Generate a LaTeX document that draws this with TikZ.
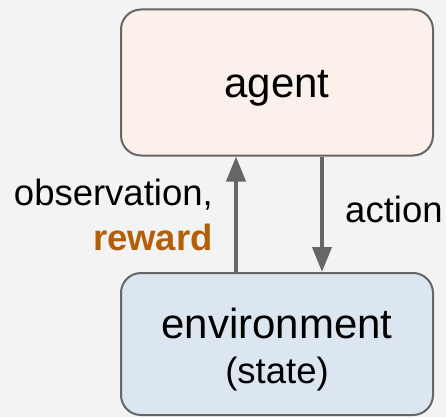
\documentclass[tikz,border=0pt]{standalone}
\usepackage{fontspec}
\setmainfont{Liberation Sans}
\usetikzlibrary{arrows.meta}
\definecolor{bgc}{HTML}{F3F3F3}
\definecolor{edgec}{HTML}{666666}
\definecolor{agentc}{HTML}{FCF0EA}
\definecolor{envc}{HTML}{DCE6F0}
\definecolor{rewardc}{HTML}{B45F06}
\tikzset{
  box/.style={draw=edgec, line width=2pt, rounded corners=20pt,
    minimum width=312pt, inner sep=0pt},
  bigtext/.style={font=\fontsize{42}{48}\selectfont, inner sep=0pt},
  smalltext/.style={font=\fontsize{36.5}{42}\selectfont, inner sep=0pt},
  arr/.style={draw=edgec, line width=4pt,
    -{Triangle[width=19pt,length=25pt]}},
}
\begin{document}
\begin{tikzpicture}[x=1pt,y=-1pt]
  \fill[bgc] (0,0) rectangle (446,417);
  \useasboundingbox (0,0) rectangle (446,417);

  % boxes
  \node[box, fill=agentc, minimum height=146pt] (agent) at (277,82.5) {};
  \node[box, fill=envc, minimum height=142pt] (env) at (277,344) {};

  % box texts
  \node[bigtext, anchor=base] (agentlbl) at (277,98) {agent};
  \node[bigtext, anchor=base] (envlbl) at (277,338) {environment};
  \node[smalltext, anchor=base] (statelbl) at (277,383) {(state)};

  % connectors
  \coordinate (upx) at (236,0);
  \coordinate (downx) at (322,0);
  \draw[arr] (env.north -| upx) -- (agent.south -| upx);
  \draw[arr] (agent.south -| downx) -- (env.north -| downx);

  % connector labels
  \node[smalltext, anchor=base east] (obs) at (213,205) {observation,};
  \node[smalltext, anchor=base east, text=rewardc] (rew) at (213,250) {\bfseries reward};
  \node[smalltext, anchor=base west] (act) at (345,222) {action};
\end{tikzpicture}
\end{document}
